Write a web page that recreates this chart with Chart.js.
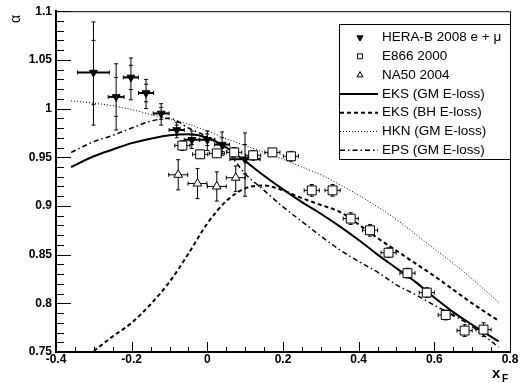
<!DOCTYPE html>
<html>
<head>
<meta charset="utf-8">
<script src="https://cdn.jsdelivr.net/npm/chart.js@4.4.1/dist/chart.umd.min.js"></script>
<style>
  body { margin: 0; background: #fff; }
  canvas { display: block; }
</style>
</head>
<body>
<canvas id="myChart" width="521" height="383"></canvas>
<script>
// HERA-B 2008 e + mu (filled down triangles)
const heraX = [-0.301, -0.241, -0.202, -0.162, -0.122, -0.081, -0.041, 0.0, 0.039, 0.0996];
const heraY = [1.037, 1.012, 1.032, 1.016, 0.995, 0.978, 0.968, 0.968, 0.963, 0.948];
const heraXErr = [0.042, 0.021, 0.020, 0.020, 0.021, 0.020, 0.020, 0.020, 0.020, 0.040];
const heraErrUp = [0.052, 0.034, 0.020, 0.014, 0.010, 0.008, 0.009, 0.009, 0.013, 0.027];
const heraErrDown = [0.054, 0.034, 0.023, 0.016, 0.012, 0.008, 0.009, 0.011, 0.011, 0.038];
const heraStat = [0.033, 0.020, 0.0125, 0.009, 0.006, 0.005, 0.005, 0.006, 0.007, 0.015];

// E866 2000 (open squares)
const e866X = [-0.066, -0.019, 0.025, 0.071, 0.121, 0.172, 0.221, 0.276, 0.331, 0.379, 0.430, 0.479, 0.529, 0.580, 0.630, 0.680, 0.730];
const e866Y = [0.962, 0.953, 0.954, 0.955, 0.952, 0.955, 0.951, 0.916, 0.916, 0.887, 0.875, 0.852, 0.831, 0.811, 0.788, 0.772, 0.773];
const e866XErr = [0.02, 0.02, 0.02, 0.02, 0.02, 0.02, 0.02, 0.02, 0.02, 0.02, 0.02, 0.02, 0.02, 0.02, 0.02, 0.02, 0.02];
const e866YErr = [0.005, 0.004, 0.004, 0.005, 0.005, 0.004, 0.005, 0.006, 0.006, 0.006, 0.006, 0.005, 0.005, 0.005, 0.005, 0.006, 0.007];

// NA50 2004 (open up triangles)
const na50X = [-0.077, -0.026, 0.025, 0.075];
const na50Y = [0.932, 0.923, 0.920, 0.929];
const na50XErr = [0.025, 0.025, 0.025, 0.025];
const na50ErrUp = [0.0155, 0.0155, 0.015, 0.012];
const na50ErrDown = [0.0155, 0.0155, 0.015, 0.014];

// model curves
const eksGmX = [-0.36, -0.3, -0.25, -0.2, -0.15, -0.1, -0.05, 0, 0.05, 0.1, 0.15, 0.2, 0.25, 0.3, 0.35, 0.4, 0.45, 0.5, 0.55, 0.6, 0.65, 0.7, 0.77];
const eksGmY = [0.940, 0.951, 0.958, 0.9645, 0.969, 0.9725, 0.9735, 0.970, 0.960, 0.946, 0.931, 0.917, 0.904, 0.892, 0.879, 0.865, 0.850, 0.836, 0.822, 0.806, 0.791, 0.778, 0.761];

const eksBhX = [-0.30, -0.25, -0.2, -0.15, -0.1, -0.05, 0, 0.05, 0.1, 0.15, 0.2, 0.25, 0.3, 0.35, 0.4, 0.45, 0.5, 0.55, 0.6, 0.65, 0.7, 0.77];
const eksBhY = [0.751, 0.766, 0.780, 0.799, 0.822, 0.851, 0.882, 0.905, 0.918, 0.921, 0.916, 0.908, 0.901, 0.894, 0.881, 0.867, 0.854, 0.841, 0.828, 0.814, 0.800, 0.782];

const hknX = [-0.36, -0.3, -0.25, -0.2, -0.15, -0.1, -0.05, 0, 0.05, 0.1, 0.15, 0.2, 0.25, 0.3, 0.35, 0.4, 0.45, 0.5, 0.55, 0.6, 0.65, 0.7, 0.77];
const hknY = [1.008, 1.0055, 1.003, 0.999, 0.994, 0.989, 0.984, 0.977, 0.969, 0.962, 0.955, 0.948, 0.940, 0.932, 0.922, 0.911, 0.899, 0.886, 0.871, 0.856, 0.841, 0.825, 0.801];

const epsX = [-0.36, -0.3, -0.25, -0.2, -0.15, -0.1, -0.05, 0, 0.05, 0.1, 0.15, 0.2, 0.25, 0.3, 0.35, 0.4, 0.45, 0.5, 0.55, 0.6, 0.65, 0.7, 0.77];
const epsY = [0.955, 0.966, 0.9725, 0.980, 0.987, 0.990, 0.980, 0.971, 0.957, 0.933, 0.916, 0.899, 0.884, 0.869, 0.855, 0.843, 0.832, 0.819, 0.809, 0.798, 0.788, 0.776, 0.755];

const xMin = -0.4, xMax = 0.8, xStep = 0.2, xMinor = 0.05;
const yMin = 0.75, yMax = 1.1, yStep = 0.05, yMinor = 0.01;

const pts = (xs, ys) => xs.map((x, i) => ({ x: x, y: ys[i] }));

const curve = (label, xs, ys, width, dash) => ({
    label: label,
    data: pts(xs, ys),
    showLine: true,
    borderColor: '#000',
    borderWidth: width,
    borderDash: dash,
    pointRadius: 0,
    cubicInterpolationMode: 'monotone',
    order: 5
});

// error bars, axis ticks, frame, axis titles and legend box
const extras = {
    id: 'extras',
    beforeDatasetsDraw(chart) {
        const ctx = chart.ctx, xs = chart.scales.x, ys = chart.scales.y;
        ctx.save();
        ctx.strokeStyle = '#000';
        chart.data.datasets.forEach(ds => {
            if (!ds.errX) return;
            ds.data.forEach((p, i) => {
                const px = xs.getPixelForValue(p.x), py = ys.getPixelForValue(p.y);
                const x0 = xs.getPixelForValue(p.x - ds.errX[i]), x1 = xs.getPixelForValue(p.x + ds.errX[i]);
                const y0 = ys.getPixelForValue(p.y + ds.errUp[i]), y1 = ys.getPixelForValue(p.y - ds.errDown[i]);
                ctx.lineWidth = ds.barWidth;
                ctx.beginPath();
                ctx.moveTo(x0, py); ctx.lineTo(x1, py);
                ctx.stroke();
                ctx.lineWidth = 1;
                ctx.beginPath();
                ctx.moveTo(px, y0); ctx.lineTo(px, y1);
                ctx.moveTo(x0, py - 2); ctx.lineTo(x0, py + 2);
                ctx.moveTo(x1, py - 2); ctx.lineTo(x1, py + 2);
                ctx.moveTo(px - 2, y0); ctx.lineTo(px + 2, y0);
                ctx.moveTo(px - 2, y1); ctx.lineTo(px + 2, y1);
                if (ds.stat) {
                    const s0 = ys.getPixelForValue(p.y + ds.stat[i]), s1 = ys.getPixelForValue(p.y - ds.stat[i]);
                    ctx.moveTo(px - 2, s0); ctx.lineTo(px + 2, s0);
                    ctx.moveTo(px - 2, s1); ctx.lineTo(px + 2, s1);
                }
                ctx.stroke();
            });
        });
        ctx.restore();
    },
    afterDraw(chart) {
        const ctx = chart.ctx, xs = chart.scales.x, ys = chart.scales.y, a = chart.chartArea;
        ctx.save();
        ctx.strokeStyle = '#000';
        ctx.lineWidth = 1;
        ctx.beginPath();
        ctx.moveTo(a.left, a.top + 0.5); ctx.lineTo(a.right + 0.5, a.top + 0.5); ctx.lineTo(a.right + 0.5, a.bottom);
        ctx.stroke();
        // y ticks
        ctx.beginPath();
        for (let k = 0; k <= Math.round((yMax - yMin) / yMinor); k++) {
            const v = yMin + k * yMinor;
            const major = k % Math.round(yStep / yMinor) === 0;
            const py = Math.round(ys.getPixelForValue(v)) + 0.5;
            ctx.moveTo(a.left, py); ctx.lineTo(a.left + (major ? 15 : 8), py);
        }
        // x ticks
        for (let k = 0; k <= Math.round((xMax - xMin) / xMinor); k++) {
            const v = xMin + k * xMinor;
            const major = k % Math.round(xStep / xMinor) === 0;
            const px = Math.round(xs.getPixelForValue(v)) + 0.5;
            ctx.moveTo(px, a.bottom); ctx.lineTo(px, a.bottom - (major ? 10 : 5));
        }
        ctx.stroke();
        // axis titles
        ctx.fillStyle = '#000';
        ctx.textBaseline = 'alphabetic';
        ctx.font = 'bold 15px "Liberation Sans", Arial, sans-serif';
        ctx.fillText('x', 492, 378);
        ctx.font = 'bold 10px "Liberation Sans", Arial, sans-serif';
        ctx.fillText('F', 502, 382);
        ctx.save();
        ctx.translate(20, 23);
        ctx.rotate(-Math.PI / 2);
        ctx.font = '14px "Liberation Sans", Arial, sans-serif';
        ctx.fillText('\u03b1', 0, 0);
        ctx.restore();

        // legend box
        const lx = 339, ly = 24, lw = 171, lh = 135, rowH = 18.8;
        ctx.fillStyle = '#fff';
        ctx.fillRect(lx, ly, lw, lh);
        ctx.strokeRect(lx + 0.5, ly + 0.5, lw, lh);
        ctx.font = '13.5px "Liberation Sans", Arial, sans-serif';
        ctx.textBaseline = 'middle';
        chart.data.datasets.forEach((ds, i) => {
            const cy = ly + 13.5 + i * rowH;
            ctx.strokeStyle = '#000';
            if (ds.showLine) {
                ctx.lineWidth = ds.borderWidth;
                ctx.setLineDash(ds.borderDash || []);
                ctx.beginPath();
                ctx.moveTo(lx + 1, cy); ctx.lineTo(lx + 39, cy);
                ctx.stroke();
                ctx.setLineDash([]);
            } else {
                ctx.fillStyle = ds.pointBackgroundColor;
                ctx.lineWidth = 1;
                Chart.helpers.drawPoint(ctx, {
                    pointStyle: ds.pointStyle, rotation: ds.pointRotation || 0,
                    radius: 3.5, borderWidth: 1
                }, lx + 21, cy);
            }
            ctx.fillStyle = '#000';
            ctx.fillText(ds.label, lx + 43, cy);
        });
        ctx.restore();
    }
};

const ctx = document.getElementById('myChart').getContext('2d');

const chart = new Chart(ctx, {
    type: 'scatter',
    data: {
        datasets: [
            {
                label: 'HERA-B 2008 e + \u03bc',
                data: pts(heraX, heraY),
                pointStyle: 'triangle',
                pointRotation: 180,
                pointRadius: 4.5,
                pointBackgroundColor: '#000',
                pointBorderColor: '#000',
                pointBorderWidth: 1,
                errX: heraXErr, errUp: heraErrUp, errDown: heraErrDown, stat: heraStat, barWidth: 2,
                order: 1
            },
            {
                label: 'E866 2000',
                data: pts(e866X, e866Y),
                pointStyle: 'rect',
                pointRadius: 6.3,
                pointBackgroundColor: '#fff',
                pointBorderColor: '#000',
                pointBorderWidth: 1,
                errX: e866XErr, errUp: e866YErr, errDown: e866YErr, barWidth: 1,
                order: 2
            },
            {
                label: 'NA50 2004',
                data: pts(na50X, na50Y),
                pointStyle: 'triangle',
                pointRadius: 5,
                pointBackgroundColor: '#fff',
                pointBorderColor: '#000',
                pointBorderWidth: 1,
                errX: na50XErr, errUp: na50ErrUp, errDown: na50ErrDown, barWidth: 1,
                order: 3
            },
            curve('EKS (GM E-loss)', eksGmX, eksGmY, 2, []),
            curve('EKS (BH E-loss)', eksBhX, eksBhY, 2, [4, 3]),
            curve('HKN (GM E-loss)', hknX, hknY, 1, [1, 2]),
            curve('EPS (GM E-loss)', epsX, epsY, 1.5, [5, 3, 1.5, 3])
        ]
    },
    options: {
        responsive: false,
        animation: false,
        events: [],
        layout: { padding: { top: 10, right: 11, left: 0, bottom: 0 } },
        plugins: { legend: { display: false }, tooltip: { enabled: false } },
        scales: {
            x: {
                type: 'linear',
                min: xMin, max: xMax,
                afterFit: s => { s.height = 31; },
                grid: { display: false, drawTicks: false },
                border: { display: true, color: '#000', width: 2 },
                ticks: {
                    stepSize: xStep, padding: 0, color: '#000',
                    font: { family: '"Liberation Sans", Arial, sans-serif', size: 12, weight: 'bold' },
                    callback: v => String(+v.toFixed(2))
                }
            },
            y: {
                type: 'linear',
                min: yMin, max: yMax,
                afterFit: s => { s.width = 56; },
                grid: { display: false, drawTicks: false },
                border: { display: true, color: '#000', width: 2 },
                ticks: {
                    stepSize: yStep, padding: 4, color: '#000',
                    font: { family: '"Liberation Sans", Arial, sans-serif', size: 12, weight: 'bold' },
                    callback: v => String(+v.toFixed(2))
                }
            }
        }
    },
    plugins: [extras]
});
</script>
</body>
</html>
